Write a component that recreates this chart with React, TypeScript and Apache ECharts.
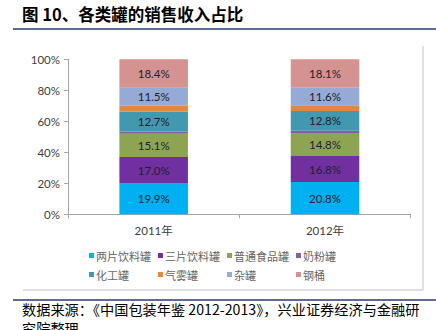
import React, { useEffect, useRef } from "react";
import * as echarts from "echarts";

const categories = ["2011年", "2012年"];
const seriesNames = ["两片饮料罐", "三片饮料罐", "普通食品罐", "奶粉罐", "化工罐", "气雾罐", "杂罐", "钢桶"];
const liangpian = [19.9, 20.8];
const sanpian = [17.0, 16.8];
const putong = [15.1, 14.8];
const naifen = [1.5, 1.5];
const huagong = [12.7, 12.8];
const qiwu = [3.9, 3.6];
const zaguan = [11.5, 11.6];
const gangtong = [18.4, 18.1];
const seriesValues = [liangpian, sanpian, putong, naifen, huagong, qiwu, zaguan, gangtong];
const showLabel = [true, true, true, false, true, false, true, true];
const colors = ["#00B0F0", "#7030A0", "#8DA452", "#7F62A0", "#4298AF", "#E0883F", "#95AAD4", "#D49290"];
const yTicks = ["0%", "20%", "40%", "60%", "80%", "100%"];

const title = "图 10、各类罐的销售收入占比";
const source1 = "数据来源：《中国包装年鉴 2012-2013》，兴业证券经济与金融研";
const source2 = "究院整理";

export default function App() {
  const ref = useRef<HTMLDivElement>(null);
  useEffect(() => {
    if (!ref.current) return;
    const chart = echarts.init(ref.current, null, { renderer: "svg" });
    const font = "Lato, 'Noto Sans CJK SC', sans-serif";
    const legendCols = [89, 158, 227, 296];
    const legendRows = [250, 269];
    const legends = seriesNames.map((n, i) => ({
      data: [n],
      left: legendCols[i % 4],
      top: legendRows[Math.floor(i / 4)],
      icon: "rect",
      itemWidth: 5,
      itemHeight: 5,
      itemGap: 0,
      padding: 0,
      textStyle: { fontSize: 11, color: "#666666", fontFamily: "'Noto Sans CJK SC', sans-serif", padding: [0, 0, 0, -3] },
    }));
    chart.setOption({
      animation: false,
      color: colors,
      grid: { left: 68, right: 25.3, top: 59.3, bottom: 115.7, containLabel: false },
      legend: legends,
      xAxis: {
        type: "category",
        data: categories,
        axisLine: { lineStyle: { color: "#A6A6A6" } },
        axisTick: { show: true, length: 4, lineStyle: { color: "#A6A6A6" } },
        axisLabel: { fontSize: 11.5, color: "#404040", margin: 10, fontFamily: font },
      },
      yAxis: {
        type: "value",
        min: 0,
        max: 100,
        interval: 20,
        splitLine: { show: false },
        axisLine: { show: true, lineStyle: { color: "#A6A6A6" } },
        axisTick: { show: true, length: 4, lineStyle: { color: "#A6A6A6" } },
        axisLabel: {
          fontSize: 11.5,
          color: "#404040",
          margin: 8,
          fontFamily: font,
          formatter: (v: number) => yTicks[Math.round(v / 20)],
        },
      },
      series: seriesNames.map((n, i) => ({
        name: n,
        type: "bar",
        stack: "total",
        barWidth: "40%",
        data: seriesValues[i],
        itemStyle: { color: colors[i] },
        label: {
          show: showLabel[i],
          position: "inside",
          fontSize: 11.5,
          color: "#1F1F2F",
          fontFamily: font,
          formatter: (p: any) => p.value.toFixed(1) + "%",
        },
      })),
      graphic: [
        {
          type: "text",
          left: 22,
          top: 6,
          style: { text: title, fontSize: 16.5, fontWeight: "bold", fill: "#000", fontFamily: "'Noto Sans CJK SC', serif" },
        },
        { type: "line", shape: { x1: 13, y1: 29, x2: 436, y2: 29 }, style: { stroke: "#2B3A6E", lineWidth: 1.5 } },
        { type: "line", shape: { x1: 423, y1: 46, x2: 423, y2: 290 }, style: { stroke: "#BFBFBF", lineWidth: 1 } },
        { type: "line", shape: { x1: 23, y1: 290, x2: 423, y2: 290 }, style: { stroke: "#BFBFBF", lineWidth: 1 } },
        { type: "line", shape: { x1: 13, y1: 300, x2: 436, y2: 300 }, style: { stroke: "#2B3A6E", lineWidth: 1.5 } },
        {
          type: "text",
          left: 22,
          top: 302,
          style: { text: source1, fontSize: 14.2, fill: "#000", fontFamily: "'Noto Sans CJK SC', serif" },
        },
        {
          type: "text",
          left: 22,
          top: 321,
          style: { text: source2, fontSize: 14.2, fill: "#000", fontFamily: "'Noto Sans CJK SC', serif" },
        },
      ],
    });
    return () => chart.dispose();
  }, []);
  return <div ref={ref} style={{ position: "absolute", left: 0, top: 0, width: 436, height: 330, background: "#fff" }} />;
}
